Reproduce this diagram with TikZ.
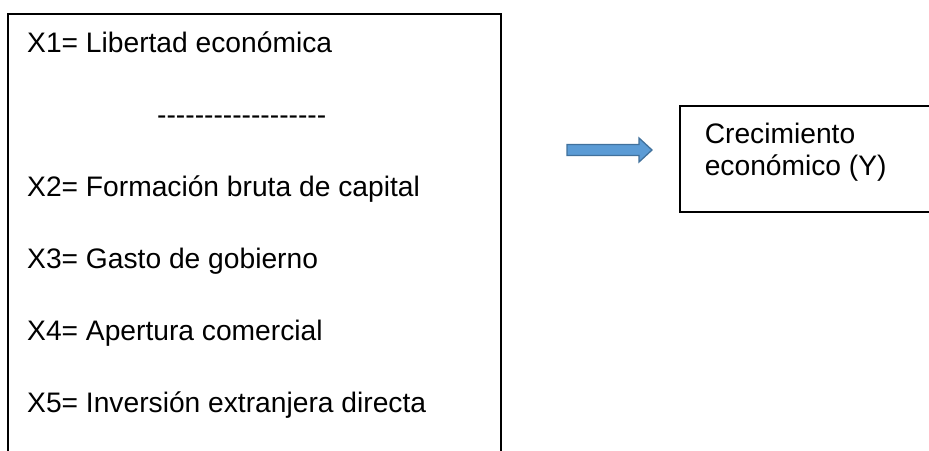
\documentclass[tikz,border=0pt]{standalone}
\usepackage{fontspec}
\setmainfont{Liberation Sans}
\usetikzlibrary{positioning}
\definecolor{arrowfill}{HTML}{5B9BD5}
\definecolor{arrowline}{HTML}{41719C}
\newcommand{\dashrow}[1]{\foreach \k in {1,...,#1}{\hbox{-}}}

\begin{document}
\begin{tikzpicture}[x=1pt, y=-1pt,
	every node/.style={inner sep=0pt, font=\fontsize{28.2}{34}\selectfont},
	item/.style={anchor=base west},
	frame/.style={draw, line width=2pt, outer sep=0pt, anchor=north west},
	blockarrow/.style={fill=arrowfill, draw=arrowline, line width=1.3pt, line join=miter}]
		\useasboundingbox (0,0) rectangle (929,450);
		\clip (0,0) rectangle (929,450);
		
		\node[frame, minimum width=493pt, minimum height=480pt] (vars) at (8,14) {};
		\node[item] (x1) at (27,52) {X1= Libertad económica};
		\node[item] (sep) at (157,124) {\dashrow{18}};
		\node[below=144pt of x1.base west, item] (x2) {X2= Formación bruta de capital};
		\node[below=72pt of x2.base west, item] (x3) {X3= Gasto de gobierno};
		\node[below=72pt of x3.base west, item] (x4) {X4= Apertura comercial};
		\node[below=72pt of x4.base west, item] (x5) {X5= Inversión extranjera directa};
		
		\coordinate (a1l) at (567,150);
		\coordinate[right=85pt of a1l] (a1r);
		\draw[blockarrow] (a1l) ++(0,-5.5) -- ++(72,0) -- ++(0,-6.5) -- (a1r)
			-- ++(-13,12) -- ++(0,-6.5) -- ++(-72,0) -- cycle;
		
		\node[frame, minimum width=300pt, minimum height=106pt] (ybox) at (680,106) {};
		\node[item] (y1) at (704.6,143) {Crecimiento};
		\node[below=32pt of y1.base west, item] (y2) {económico (Y)};
		
	\end{tikzpicture}
\end{document}
